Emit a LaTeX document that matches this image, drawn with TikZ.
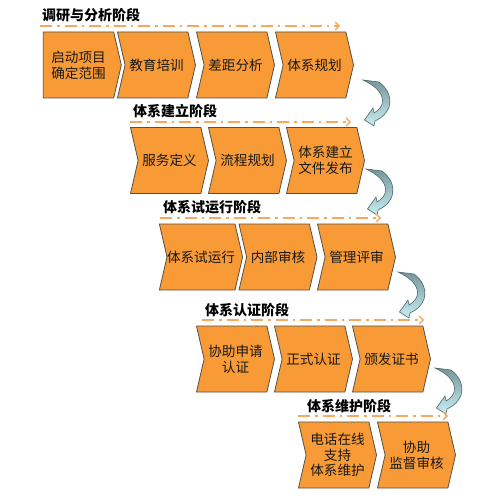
\documentclass[tikz,border=0pt]{standalone}
\usepackage{fontspec}
\setmainfont{Noto Sans CJK SC}
\usepackage{xcolor}
\usetikzlibrary{shapes.symbols,arrows.meta}

\definecolor{boxorange}{HTML}{F89A36}
\definecolor{boxedge}{HTML}{55504A}
\definecolor{lineorange}{HTML}{F6A860}
\definecolor{arrowtop}{HTML}{76969A}
\definecolor{arrowbot}{HTML}{C8EEF2}
\definecolor{arrowedge}{HTML}{4A666B}

\tikzset{
  chevbox/.style={shape=signal, signal to=east, signal from=west, signal pointer angle=154,
    draw=boxedge, line width=0.8pt, fill=boxorange, minimum width=78pt, minimum height=66pt,
    inner sep=0pt, align=center, text=black!90, font=\fontsize{13.6}{15.8}\selectfont},
  firstbox/.style={chevbox, signal from=nowhere},
  stagetitle/.style={anchor=west, inner sep=0pt, font=\fontsize{14}{16}\selectfont\bfseries},
  stageline/.style={draw=lineorange, line width=1.8pt, dash pattern=on 12pt off 5pt on 2.5pt off 5pt,
    -{Straight Barb[length=4pt,width=8pt,line width=1.4pt]}},
  turnarrow/.style={draw=arrowedge, line width=0.6pt, top color=arrowtop, bottom color=arrowbot}
}

% curved arrow between two stages
\newcommand\stageturn[1]{
  \path[turnarrow, shift={#1}] (0,0) -- (16,2) .. controls (24,8) and (29,17) .. (26,27)
    .. controls (24,33) and (19,38) .. (12,41) -- (11,46) -- (1.5,40) -- (10,28) -- (11,33)
    .. controls (16,30) and (20,26) .. (19.5,20) .. controls (19,12) and (11,5) .. (0,0) -- cycle;
}

\begin{document}
\begin{tikzpicture}[x=1pt, y=-1pt]
  \useasboundingbox (0,0) rectangle (500,500);

  % stage 1
  \node[stagetitle] (t1) at (42,15) {调研与分析阶段};
  \coordinate (l1a) at (40,26);
  \coordinate (l1b) at (340,26);
  \draw[stageline] (l1a) -- (l1b);
  \node[firstbox] (s1a) at (78.5,65) {启动项目\\确定范围};
  \node[chevbox] (s1b) at (156.5,65) {教育培训};
  \node[chevbox] (s1c) at (235.5,65) {差距分析};
  \node[chevbox] (s1d) at (314.5,65) {体系规划};
  \stageturn{(363,80)}

  % stage 2
  \node[stagetitle] (t2) at (133,111) {体系建立阶段};
  \coordinate (l2a) at (130,122);
  \coordinate (l2b) at (351,122);
  \draw[stageline] (l2a) -- (l2b);
  \node[chevbox] (s2a) at (169.5,160.5) {服务定义};
  \node[chevbox] (s2b) at (247.5,160.5) {流程规划};
  \node[chevbox] (s2c) at (325.5,160.5) {体系建立\\文件发布};
  \stageturn{(366,169)}

  % stage 3
  \node[stagetitle] (t3) at (163,207) {体系试运行阶段};
  \coordinate (l3a) at (160,218);
  \coordinate (l3b) at (381,218);
  \draw[stageline] (l3a) -- (l3b);
  \node[chevbox] (s3a) at (201,257) {体系试运行};
  \node[chevbox] (s3b) at (278,257) {内部审核};
  \node[chevbox] (s3c) at (356.5,257) {管理评审};
  \stageturn{(398,272)}

  % stage 4
  \node[stagetitle] (t4) at (205,310) {体系认证阶段};
  \coordinate (l4a) at (202,320);
  \coordinate (l4b) at (424,320);
  \draw[stageline] (l4a) -- (l4b);
  \node[chevbox] (s4a) at (235.5,359) {协助申请\\认证};
  \node[chevbox] (s4b) at (313.5,359) {正式认证};
  \node[chevbox] (s4c) at (391.5,359) {颁发证书};
  \stageturn{(435,368)}

  % stage 5
  \node[stagetitle] (t5) at (307,406) {体系维护阶段};
  \coordinate (l5a) at (298,416);
  \coordinate (l5b) at (448,416);
  \draw[stageline] (l5a) -- (l5b);
  \node[chevbox] (s5a) at (337.5,455) {电话在线\\支持\\体系维护};
  \node[chevbox] (s5b) at (416.5,455) {协助\\监督审核};
\end{tikzpicture}
\end{document}
